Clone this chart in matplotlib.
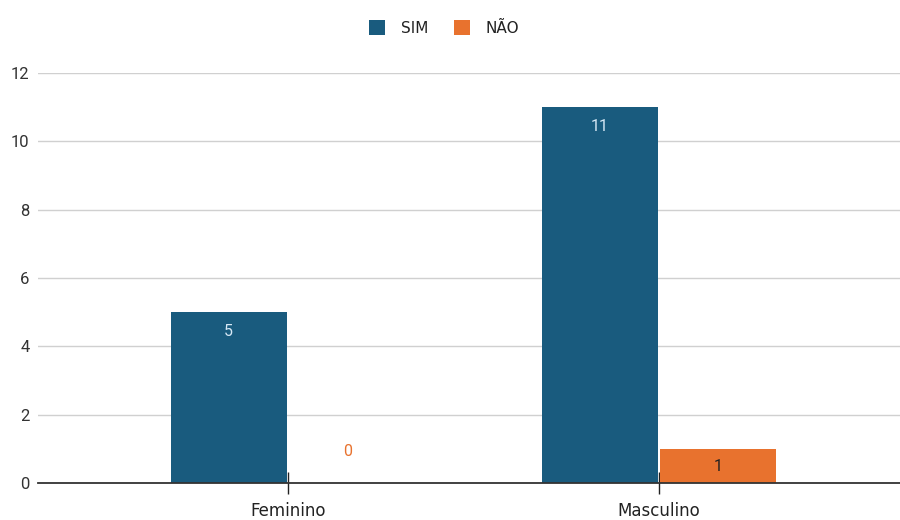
import matplotlib
matplotlib.use("Agg")
import matplotlib.pyplot as plt
import numpy as np

categories = ["Feminino", "Masculino"]
series_names = ["SIM", "NÃO"]
sim_values = [5, 11]
nao_values = [0, 1]
y_ticks = [0, 2, 4, 6, 8, 10, 12]

colors = {"SIM": "#195b7e", "NÃO": "#e8722e"}
label_colors = {"SIM": "#d6e8f5", "NÃO": "#222222"}

plt.rcParams['font.family'] = ['Roboto', 'DejaVu Sans']

fig = plt.figure(figsize=(9, 5.2), dpi=100)
ax = fig.add_axes([38/900, 37/520, 862/900, 410/520])

x = np.arange(len(categories))
w = 0.313
off = 0.160

b1 = ax.bar(x - off, sim_values, w, color=colors["SIM"], label="SIM", zorder=3)
b2 = ax.bar(x + off, nao_values, w, color=colors["NÃO"], label="NÃO", zorder=3)

ax.set_ylim(0, 12)
ax.set_xlim((38 - 288) / 371, (900 - 288) / 371)
ax.set_yticks(y_ticks)
ax.set_xticks(x)
ax.set_xticklabels(categories, family=['DejaVu Sans'], fontsize=12)
ax.grid(axis='y', color='#d0d0d0', linewidth=1, zorder=0)
ax.set_axisbelow(True)

for s in ['top', 'right', 'left']:
    ax.spines[s].set_visible(False)
ax.spines['bottom'].set_color('#333333')
ax.spines['bottom'].set_linewidth(1.3)
ax.spines['bottom'].set_zorder(4)

ax.tick_params(axis='y', length=0, labelsize=12, labelcolor='#333333', pad=6)
ax.tick_params(axis='x', direction='inout', length=16, width=1, color='#222222',
               labelcolor='#222222', pad=6)

for rect, v in zip(b1, sim_values):
    ax.annotate(str(v), (rect.get_x() + rect.get_width()/2, v), xytext=(0, -14),
                textcoords='offset points', ha='center', va='center',
                color=label_colors["SIM"], fontsize=11.5, zorder=5)
for rect, v in zip(b2, nao_values):
    if v == 0:
        ax.annotate(str(v), (rect.get_x() + rect.get_width()/2, v), xytext=(0, 22.5),
                    textcoords='offset points', ha='center', va='center',
                    color=colors["NÃO"], fontsize=11.5, zorder=5)
    else:
        ax.annotate(str(v), (rect.get_x() + rect.get_width()/2, v), xytext=(0, -12.5),
                    textcoords='offset points', ha='center', va='center',
                    color=label_colors["NÃO"], fontsize=11.5, zorder=5)

leg = fig.legend(loc='center', bbox_to_anchor=(444/900, 1 - 28/520), ncol=2,
                 frameon=False, prop={'family': 'DejaVu Sans', 'size': 11},
                 handlelength=1.05, handleheight=1.05,
                 columnspacing=1.7, handletextpad=1.0)
for t in leg.get_texts():
    t.set_color('#222222')

fig.savefig("out.png", dpi=100)
